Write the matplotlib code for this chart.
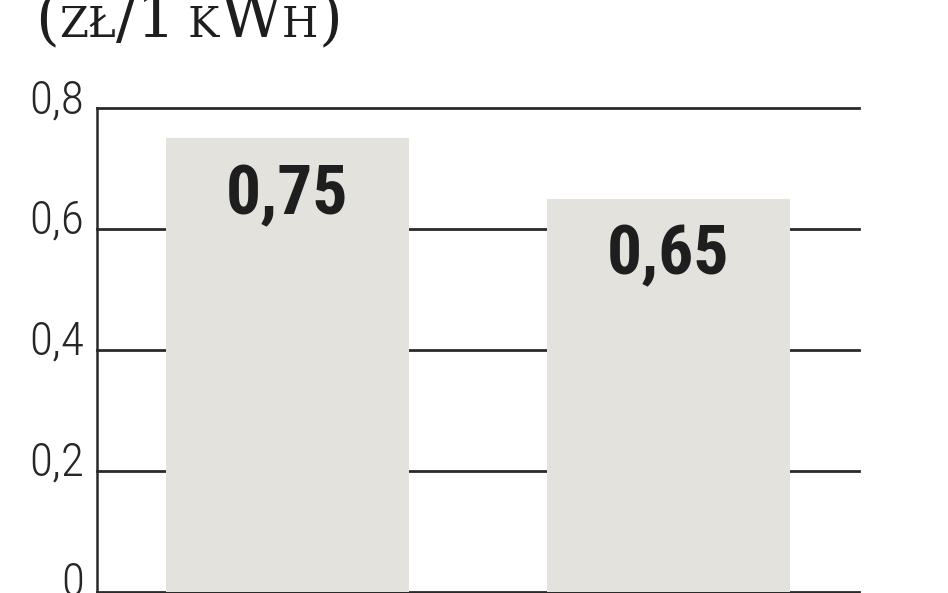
import os
import matplotlib
matplotlib.use('Agg')
import matplotlib.pyplot as plt
import matplotlib.transforms as mtransforms
from matplotlib import font_manager
from matplotlib.font_manager import FontProperties

# bar values (zł per 1 kWh)
categories = ['A', 'B']
values = [0.75, 0.65]
y_ticks = [0, 0.2, 0.4, 0.6, 0.8]
y_tick_labels = ['0', '0,2', '0,4', '0,6', '0,8']

# unit title drawn as fake small caps: (text, is_small)
title_parts = [('(', False), ('ZŁ', True), ('/1', False), (' K', True),
               ('W', False), ('H', True), (')', False)]

BAR_COLOR = '#e3e2dd'
LINE_COLOR = '#2a2a2a'
TEXT_COLOR = '#1e1e1e'


def condensed_font(weight, size):
    """Find a condensed / narrow sans face among the installed fonts."""
    for fam in ['Roboto Condensed', 'Liberation Sans Narrow', 'DejaVu Sans',
                'Open Sans', 'Noto Sans', 'Roboto']:
        fp = FontProperties(family=fam, stretch='condensed', weight=weight)
        try:
            path = font_manager.findfont(fp, fallback_to_default=False)
        except ValueError:
            continue
        name = os.path.basename(path).lower()
        if 'condensed' in name or 'narrow' in name:
            return FontProperties(fname=path, size=size)
    # nothing narrow around, shrink a bit instead
    return FontProperties(family='DejaVu Sans', weight=weight, size=size * 0.85)


tick_font = condensed_font('light', 34)
value_font = condensed_font('bold', 50)

W, H = 948, 593
fig = plt.figure(figsize=(W / 100, H / 100), dpi=100)
ax = fig.add_axes([97 / W, 1.5 / H, (859 - 97) / W, (591.5 - 108) / H])

x = range(len(categories))
ax.bar(x, values, width=0.64, color=BAR_COLOR, zorder=2)
ax.set_xlim(-0.5, 1.5)
ax.set_ylim(0, 0.8)

ax.set_axisbelow(True)
ax.grid(axis='y', color=LINE_COLOR, linewidth=2.0, clip_on=False)
ax.set_xticks([])
ax.set_yticks(y_ticks, y_tick_labels)
ax.tick_params(axis='y', length=0, pad=9, labelcolor='#262626')
shift_down = mtransforms.ScaledTranslation(0, -5 / 100, fig.dpi_scale_trans)
for lbl in ax.get_yticklabels():
    lbl.set_fontproperties(tick_font)
    lbl.set_verticalalignment('baseline')
    lbl.set_transform(lbl.get_transform() + shift_down)

for side in ['top', 'right', 'bottom']:
    ax.spines[side].set_visible(False)
ax.spines['left'].set_color(LINE_COLOR)
ax.spines['left'].set_linewidth(1.8)

for i, v in zip(x, values):
    ax.annotate(f'{v:.2f}'.replace('.', ','), xy=(i, v), xytext=(0, -76),
                textcoords='offset pixels', ha='center', va='baseline',
                color=TEXT_COLOR, fontproperties=value_font)

# title with small caps imitation
renderer = fig.canvas.get_renderer()
px = 35
baseline = H - 37
for txt, small in title_parts:
    t = fig.text(px / W, baseline / H, txt, fontsize=30 if small else 44,
                 family='DejaVu Serif', color=TEXT_COLOR, va='baseline', ha='left')
    px += t.get_window_extent(renderer).width

fig.savefig('out.png', dpi=100)
